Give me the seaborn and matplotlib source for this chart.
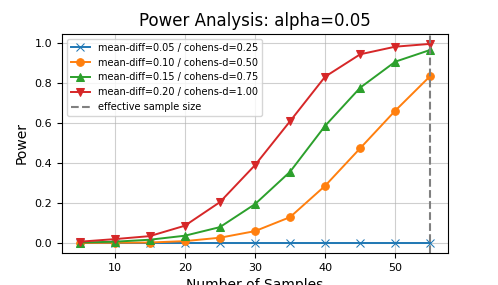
import numpy as np
import pandas as pd
import seaborn as sns
from matplotlib import pyplot as plt

sample_sizes = [5, 10, 15, 20, 25, 30, 35, 40, 45, 50, 55]
series_labels = [
    "mean-diff=0.05 / cohens-d=0.25",
    "mean-diff=0.10 / cohens-d=0.50",
    "mean-diff=0.15 / cohens-d=0.75",
    "mean-diff=0.20 / cohens-d=1.00",
]
power_005 = [0.0, 0.0, 0.0, 0.0, 0.0, 0.0, 0.0, 0.0, 0.0, 0.0, 0.0]
power_010 = [0.001, 0.002, 0.003, 0.01, 0.027, 0.06, 0.13, 0.287, 0.475, 0.663, 0.837]
power_015 = [0.003, 0.007, 0.017, 0.037, 0.08, 0.195, 0.357, 0.587, 0.778, 0.908, 0.967]
power_020 = [0.007, 0.02, 0.035, 0.087, 0.205, 0.39, 0.61, 0.833, 0.945, 0.983, 0.997]
effective_sample_size = 55

markers = ["x", "o", "^", "v"]
colors = ["#1f77b4", "#ff7f0e", "#2ca02c", "#d62728"]

fig = plt.figure(figsize=(4.98, 2.85), dpi=100)
ax = fig.add_axes([0.1245, 0.112, 0.775, 0.769])

for label, values, marker, color in zip(series_labels, [power_005, power_010, power_015, power_020], markers, colors):
    df = pd.DataFrame({"Number of Samples": sample_sizes, "Power": values})
    sns.lineplot(data=df, x="Number of Samples", y="Power", ax=ax, marker=marker, color=color,
                 label=label, markersize=5.5, markeredgecolor=color, linewidth=1.4)

ax.axvline(effective_sample_size, color="gray", linestyle="--", label="effective sample size")

ax.grid(True, color="#b0b0b0", linewidth=0.8, alpha=0.6)
ax.set_title("Power Analysis: alpha=0.05", fontsize=12)
ax.set_xlabel("Number of Samples", fontsize=10)
ax.set_ylabel("Power", fontsize=10)
ax.tick_params(labelsize=8)
ax.legend(loc="upper left", fontsize=7)

fig.savefig("out.png", dpi=100)
